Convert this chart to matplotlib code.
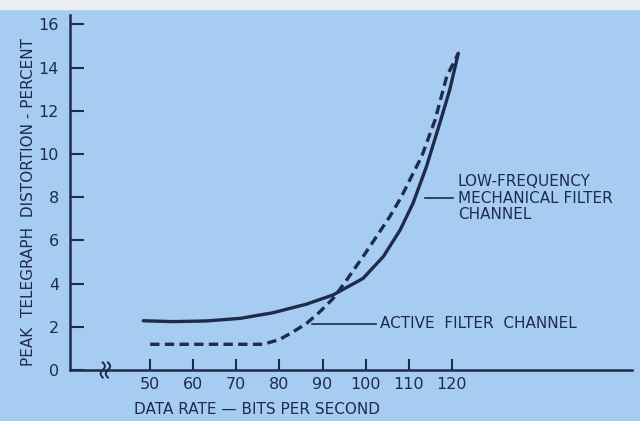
"""Peak telegraph distortion vs data rate for two filter channels."""

import matplotlib

matplotlib.use("Agg")
import matplotlib.pyplot as plt
import numpy as np
from matplotlib.patches import Rectangle

# data
mech_rate = [48.4, 55.3, 63.1, 70.9, 78.5, 86.3, 92.4, 99.4, 104.1, 108.0, 111.0, 114.1, 117.2, 119.5, 121.5]
mech_dist = [2.28, 2.24, 2.27, 2.39, 2.65, 3.05, 3.47, 4.24, 5.25, 6.48, 7.72, 9.41, 11.42, 12.96, 14.66]

active_rate = [50, 76.3, 80.1, 83.2, 86.3, 89.4, 92.5, 95.6, 99.4, 102.5, 105.6, 108.3, 111.0, 113.0, 116.1, 118.8, 121.5]
active_dist = [1.19, 1.19, 1.42, 1.77, 2.16, 2.7, 3.32, 4.17, 5.25, 6.17, 7.1, 8.02, 9.1, 9.88, 11.57, 13.58, 14.66]

x_ticks = [50, 60, 70, 80, 90, 100, 110, 120]
y_ticks = [0, 2, 4, 6, 8, 10, 12, 14, 16]

BG = "#a6cdf1"
INK = "#1f2b4a"

fig = plt.figure(figsize=(6.4, 4.21), dpi=100, facecolor=BG)
fig.patches.append(Rectangle((0, 421 - 9), 640, 9, transform=None, color="#eceff1", zorder=0))

ax = fig.add_axes([70 / 640, (421 - 370) / 421, 562 / 640, 355 / 421])
ax.set_facecolor("none")

ax.plot(mech_rate, mech_dist, color=INK, lw=2.4, solid_capstyle="round",
        solid_joinstyle="round")
ax.plot(active_rate, active_dist, color=INK, lw=2.4, dashes=(2.8, 1.6))

ax.set_xlim(31.4, 161.8)
ax.set_ylim(0, 16.43)

for side in ("top", "right"):
    ax.spines[side].set_visible(False)
for side in ("left", "bottom"):
    ax.spines[side].set_color(INK)
    ax.spines[side].set_linewidth(1.8)

ax.set_xticks(x_ticks)
ax.set_yticks(y_ticks)
ax.tick_params(axis="x", direction="in", length=8, width=1.5, color=INK,
               labelcolor=INK, labelsize=11.5, pad=5)
ax.tick_params(axis="y", direction="in", length=10, width=1.5, color=INK,
               labelcolor=INK, labelsize=11.5, pad=8)

# axis break squiggle
t = np.linspace(-1, 1, 30)
for dx in (-0.6, 0.6):
    xs = 39.6 + dx + 0.5 * np.sin(t * np.pi)
    ys = 0.35 * t
    ax.plot(xs, ys, color=INK, lw=1.4, clip_on=False)

ax.set_xlabel("DATA RATE \u2014 BITS PER SECOND", color=INK, fontsize=11)
ax.xaxis.set_label_coords((257 - 70) / 562, -(402 - 370) / 355)
ax.set_ylabel("PEAK  TELEGRAPH  DISTORTION - PERCENT", color=INK, fontsize=11)
ax.yaxis.set_label_coords(-(70 - 36) / 562, (370 - 202) / 355)

# annotations
ax.plot([113.7, 120.2], [7.96, 7.96], color=INK, lw=1.2)
ax.text(121.4, 7.96, "LOW-FREQUENCY\nMECHANICAL FILTER\nCHANNEL", color=INK,
        fontsize=11, va="center", ha="left", linespacing=1.1)
ax.plot([87.5, 102.4], [2.13, 2.13], color=INK, lw=1.2)
ax.text(103.3, 2.13, "ACTIVE  FILTER  CHANNEL", color=INK, fontsize=11,
        va="center", ha="left")

fig.savefig("out.png", dpi=100, facecolor=BG)
